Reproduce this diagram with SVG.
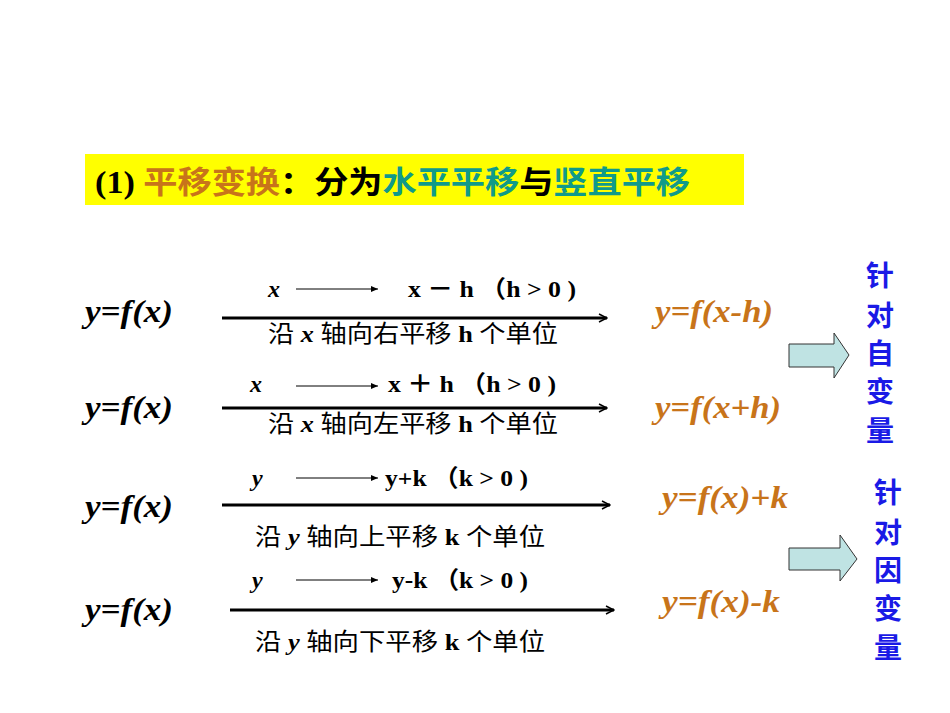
<svg xmlns="http://www.w3.org/2000/svg" width="950" height="713" viewBox="0 0 950 713">
<defs>
<marker id="ah" markerWidth="10" markerHeight="10" refX="9" refY="5" orient="auto" markerUnits="userSpaceOnUse"><path d="M1,1 L9,5 L1,9" fill="none" stroke="#000" stroke-width="1.5"/></marker>
<marker id="as" markerWidth="8" markerHeight="8" refX="7" refY="4" orient="auto" markerUnits="userSpaceOnUse"><path d="M0,1 L7,4 L0,7 Z" fill="#000"/></marker>
</defs>
<style>
.t{font-family:"Liberation Serif","Noto Sans CJK SC",serif;fill:#000}
.eq{font-family:"Liberation Serif",serif;font-weight:bold;font-style:italic;font-size:32px}
.res{fill:#c8741a}
.lab{font-size:24px;font-weight:bold}
.cj{font-family:"Noto Sans CJK SC",sans-serif;font-size:28px;fill:#1a1ae6;font-weight:bold}
.big{stroke:#000;stroke-width:3}
.sm{stroke:#000;stroke-width:1}
.fat{fill:#bfe3e3;stroke:#333;stroke-width:1}
</style>
<g id="title">
<rect x="85" y="154" width="659" height="51" fill="#ffff00"/>
<text x="95" y="193" class="t" font-size="31" font-weight="bold" textLength="595" lengthAdjust="spacingAndGlyphs"><tspan>(1) </tspan><tspan fill="#c8741a" font-family="Noto Sans CJK SC,sans-serif">平移变换</tspan><tspan font-family="Noto Sans CJK SC,sans-serif">：分为</tspan><tspan fill="#109a8a" font-family="Noto Sans CJK SC,sans-serif">水平平移</tspan><tspan font-family="Noto Sans CJK SC,sans-serif">与</tspan><tspan fill="#109a8a" font-family="Noto Sans CJK SC,sans-serif">竖直平移</tspan></text>
</g>
<g id="connectors">
<line x1="222" y1="318" x2="607" y2="318" class="big" marker-end="url(#ah)"/>
<line x1="222" y1="408" x2="607" y2="408" class="big" marker-end="url(#ah)"/>
<line x1="222" y1="505" x2="610" y2="505" class="big" marker-end="url(#ah)"/>
<line x1="230" y1="610" x2="614" y2="610" class="big" marker-end="url(#ah)"/>
<line x1="296" y1="289" x2="378" y2="289" class="sm" marker-end="url(#as)"/>
<line x1="296" y1="386" x2="378" y2="386" class="sm" marker-end="url(#as)"/>
<line x1="296" y1="478" x2="378" y2="478" class="sm" marker-end="url(#as)"/>
<line x1="296" y1="580" x2="378" y2="580" class="sm" marker-end="url(#as)"/>
<path d="M789,344 H834 V333 L849,355 L834,378 V367 H789 Z" class="fat"/>
<path d="M789,548 H840 V535 L857,559 L840,581 V570 H789 Z" class="fat"/>
</g>
<g id="row1">
<text x="85" y="322" class="t eq" textLength="88" lengthAdjust="spacingAndGlyphs">y=f(x)</text>
<text x="268" y="297" class="t lab" font-style="italic">x</text>
<text x="408" y="297" class="t lab" textLength="168" lengthAdjust="spacingAndGlyphs">x － h （h &gt; 0 )</text>
<text x="268" y="342" class="t" font-size="24" textLength="290" lengthAdjust="spacingAndGlyphs">沿 <tspan font-style="italic" font-weight="bold">x</tspan> 轴向右平移 <tspan font-weight="bold">h</tspan> 个单位</text>
<text x="655" y="322" class="t eq res" textLength="118" lengthAdjust="spacingAndGlyphs">y=f(x-h)</text>
</g>
<g id="row2">
<text x="85" y="418" class="t eq" textLength="88" lengthAdjust="spacingAndGlyphs">y=f(x)</text>
<text x="250" y="392" class="t lab" font-style="italic">x</text>
<text x="388" y="392" class="t lab" textLength="168" lengthAdjust="spacingAndGlyphs">x ＋ h （h &gt; 0 )</text>
<text x="268" y="432" class="t" font-size="24" textLength="290" lengthAdjust="spacingAndGlyphs">沿 <tspan font-style="italic" font-weight="bold">x</tspan> 轴向左平移 <tspan font-weight="bold">h</tspan> 个单位</text>
<text x="655" y="418" class="t eq res" textLength="126" lengthAdjust="spacingAndGlyphs">y=f(x+h)</text>
</g>
<g id="row3">
<text x="85" y="517" class="t eq" textLength="88" lengthAdjust="spacingAndGlyphs">y=f(x)</text>
<text x="252" y="486" class="t lab" font-style="italic">y</text>
<text x="385" y="486" class="t lab" textLength="143" lengthAdjust="spacingAndGlyphs">y+k （k &gt; 0 )</text>
<text x="255" y="545" class="t" font-size="24" textLength="290" lengthAdjust="spacingAndGlyphs">沿 <tspan font-style="italic" font-weight="bold">y</tspan> 轴向上平移 <tspan font-weight="bold">k</tspan> 个单位</text>
<text x="662" y="508" class="t eq res" textLength="126" lengthAdjust="spacingAndGlyphs">y=f(x)+k</text>
</g>
<g id="row4">
<text x="85" y="620" class="t eq" textLength="88" lengthAdjust="spacingAndGlyphs">y=f(x)</text>
<text x="252" y="588" class="t lab" font-style="italic">y</text>
<text x="392" y="588" class="t lab" textLength="136" lengthAdjust="spacingAndGlyphs">y-k （k &gt; 0 )</text>
<text x="255" y="650" class="t" font-size="24" textLength="290" lengthAdjust="spacingAndGlyphs">沿 <tspan font-style="italic" font-weight="bold">y</tspan> 轴向下平移 <tspan font-weight="bold">k</tspan> 个单位</text>
<text x="662" y="612" class="t eq res" textLength="118" lengthAdjust="spacingAndGlyphs">y=f(x)-k</text>
</g>
<g id="label1">
<text x="866" y="286" class="cj">针</text><text x="866" y="326" class="cj">对</text><text x="866" y="364" class="cj">自</text><text x="866" y="402" class="cj">变</text><text x="866" y="441" class="cj">量</text>
</g>
<g id="label2">
<text x="874" y="503" class="cj">针</text><text x="874" y="543" class="cj">对</text><text x="874" y="581" class="cj">因</text><text x="874" y="619" class="cj">变</text><text x="874" y="658" class="cj">量</text>
</g>
</svg>
